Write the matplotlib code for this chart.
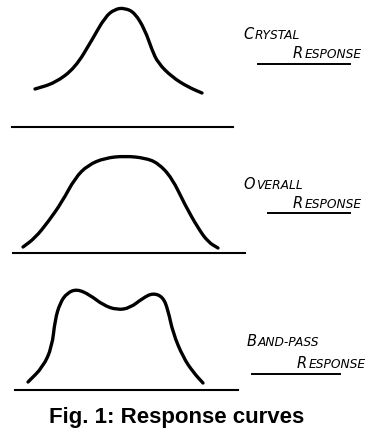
import numpy as np
import matplotlib
matplotlib.use("Agg")
import matplotlib.pyplot as plt
from matplotlib.path import Path
from matplotlib.patches import PathPatch

# curve samples: position along the baseline and height above it
crystal_x = [35, 55, 75, 92, 105, 115, 125, 135, 145, 152, 158, 172, 188, 202]
crystal_h = [38, 44, 59, 87, 110, 118, 119, 114, 97, 77, 64, 50, 40, 34]

overall_x = [23, 35, 48, 62, 75, 88, 105, 125, 145, 158, 172, 185, 198, 208, 218]
overall_h = [6, 15, 31, 51, 75, 88, 95, 97, 95, 90, 75, 48, 25, 11, 5]

bandpass_x = [28, 43, 52, 55, 60, 67, 77, 90, 103, 117, 130, 143, 153, 163,
              168, 173, 183, 193, 203]
bandpass_h = [8, 23, 43, 70, 87, 97, 101, 95, 85, 80, 82, 92, 97, 93,
              80, 57, 33, 18, 7]

labels = [("CRYSTAL", "RESPONSE"), ("OVERALL", "RESPONSE"), ("BAND-PASS", "RESPONSE")]
caption = "Fig. 1: Response curves"

fig = plt.figure(figsize=(3.82, 4.38), dpi=100, facecolor="white")
ax = fig.add_axes([0, 0, 1, 1])
ax.set_xlim(0, 382)
ax.set_ylim(438, 0)
ax.axis("off")


def smooth_curve(x, y):
    # quadratic bezier through midpoints, samples act as control points
    pts = np.column_stack([x, y]).astype(float)
    verts = [pts[0], (pts[0] + pts[1]) / 2]
    codes = [Path.MOVETO, Path.LINETO]
    for i in range(1, len(pts) - 1):
        verts += [pts[i], (pts[i] + pts[i + 1]) / 2]
        codes += [Path.CURVE3, Path.CURVE3]
    verts.append(pts[-1])
    codes.append(Path.LINETO)
    return Path(verts, codes)


panels = [
    (crystal_x, crystal_h, 127, (12, 233)),
    (overall_x, overall_h, 253, (13, 245)),
    (bandpass_x, bandpass_h, 390, (15, 238)),
]
for x, h, base, (x0, x1) in panels:
    y = base - np.array(h)
    ax.add_patch(PathPatch(smooth_curve(x, y), fill=False, lw=2.4,
                           edgecolor="black", capstyle="round", joinstyle="round"))
    ax.plot([x0, x1], [base, base], color="black", lw=1.5)


def hand_label(x, y, word, big=10.5, small=8.8):
    t = ax.text(x, y, word[0], fontsize=big, style="italic", color="black",
                va="baseline", ha="left")
    ax.annotate(word[1:], xy=(1, 0), xycoords=t, fontsize=small, style="italic",
                va="bottom", ha="left", color="black", xytext=(0.8, 0),
                textcoords="offset points")


label_pos = [
    ((243, 39), (293, 58), (258, 350, 64)),
    ((243, 189), (293, 208), (268, 350, 213)),
    ((247, 346), (297, 368), (252, 340, 374)),
]
for (w1, w2), (p1, p2, ul) in zip(labels, label_pos):
    hand_label(p1[0], p1[1], w1)
    hand_label(p2[0], p2[1], w2)
    ax.plot([ul[0], ul[1]], [ul[2], ul[2]], color="black", lw=1.4)

ax.text(177, 418, caption, fontsize=16, fontweight="bold",
        family=["Liberation Sans", "DejaVu Sans"],
        ha="center", va="center")

fig.savefig("out.png", dpi=100, facecolor="white")
